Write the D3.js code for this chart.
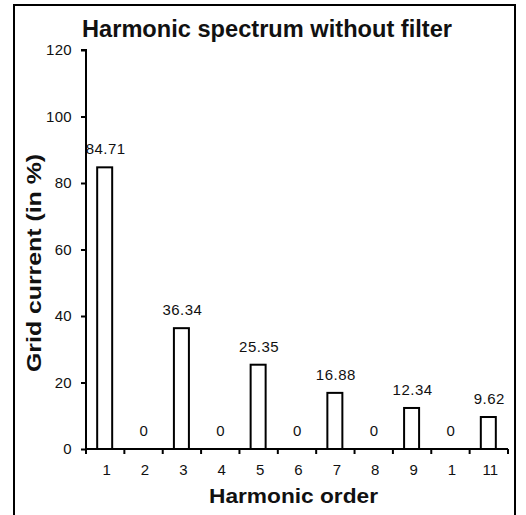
<!DOCTYPE html>
<html><head><meta charset="utf-8">
<script src="https://cdn.jsdelivr.net/npm/d3@7"></script>
<style>body{margin:0;background:#fff}svg{display:block}</style>
</head><body>
<script>
const categories = ["1","2","3","4","5","6","7","8","9","1","11"];
const values = [84.71, 0, 36.34, 0, 25.35, 0, 16.88, 0, 12.34, 0, 9.62];
const valueLabels = ["84.71","0","36.34","0","25.35","0","16.88","0","12.34","0","9.62"];
const yTicks = [0,20,40,60,80,100,120];

(function(){
const W = 526, H = 515;
const svg = d3.select("body").append("svg").attr("width", W).attr("height", H);
svg.append("rect").attr("x",14).attr("y",5).attr("width",501).attr("height",520)
  .attr("fill","#fff").attr("stroke","#000").attr("stroke-width",2);

const mL = 86, mR = 508, mT = 50, mB = 449;
const x = d3.scaleBand().domain(d3.range(categories.length)).range([mL, mR]).paddingInner(0).paddingOuter(0);
const y = d3.scaleLinear().domain([0,120]).range([mB, mT]);
const font = "Liberation Sans, Arial, sans-serif";

const bw = 15;
svg.append("g").selectAll("rect").data(values).join("rect")
  .attr("x",(d,i)=>x(i)+x.bandwidth()/2-bw/2-0.5)
  .attr("y",d=>y(d))
  .attr("width",bw).attr("height",d=>y(0)-y(d))
  .attr("fill","#fff").attr("stroke","#000").attr("stroke-width",2)
  .attr("display",d=>d>0?null:"none");

svg.append("g").selectAll("text").data(values).join("text")
  .attr("x",(d,i)=>x(i)+x.bandwidth()/2+0.5)
  .attr("y",d=>y(d)-13)
  .attr("text-anchor","middle").attr("font-family",font).attr("font-size",15)
  .attr("letter-spacing",0.5).attr("fill","#111")
  .text((d,i)=>valueLabels[i]);

const yAxis = svg.append("g").attr("transform",`translate(${mL},0)`)
  .call(d3.axisLeft(y).tickValues(yTicks).tickSize(5).tickPadding(9).tickFormat(d3.format("d")));
yAxis.select(".domain").attr("stroke-width",2).attr("d",`M-5,${mT}H0V${mB}`);
yAxis.selectAll(".tick line").attr("stroke-width",2);
yAxis.selectAll("text").attr("font-family",font).attr("font-size",15).attr("letter-spacing",0.3).attr("fill","#111");

const xAxis = svg.append("g").attr("transform",`translate(0,${mB})`)
  .call(d3.axisBottom(x).tickValues([]).tickSizeOuter(0));
xAxis.select(".domain").attr("stroke-width",2).attr("d",`M${mL},0H${mR}`);
const tickPos = d3.range(categories.length+1).map(i=>mL+i*x.step());
xAxis.selectAll(".xt").data(tickPos).join("line").attr("class","xt")
  .attr("x1",d=>d).attr("x2",d=>d).attr("y1",0).attr("y2",5).attr("stroke","#000").attr("stroke-width",2);
xAxis.selectAll(".xl").data(categories).join("text").attr("class","xl")
  .attr("x",(d,i)=>x(i)+x.bandwidth()/2+1.5).attr("y",26)
  .attr("text-anchor","middle").attr("font-family",font).attr("font-size",15).attr("fill","#111")
  .text(d=>d);

svg.append("text").attr("x",267).attr("y",37).attr("text-anchor","middle")
  .attr("font-family",font).attr("font-weight","bold").attr("font-size",23).attr("fill","#111")
  .attr("textLength",370).attr("lengthAdjust","spacingAndGlyphs")
  .text("Harmonic spectrum without filter");
svg.append("text").attr("x",293.5).attr("y",503).attr("text-anchor","middle")
  .attr("font-family",font).attr("font-weight","bold").attr("font-size",21).attr("fill","#111")
  .attr("textLength",169).attr("lengthAdjust","spacingAndGlyphs")
  .text("Harmonic order");
svg.append("text").attr("transform","translate(41,263) rotate(-90)").attr("text-anchor","middle")
  .attr("font-family",font).attr("font-weight","bold").attr("font-size",21).attr("fill","#111")
  .attr("textLength",218).attr("lengthAdjust","spacingAndGlyphs")
  .text("Grid current (in %)");
})();
</script>
</body></html>
